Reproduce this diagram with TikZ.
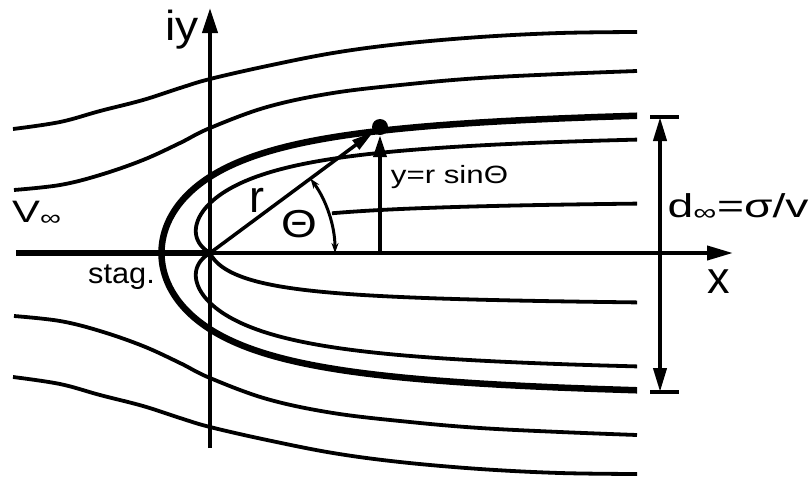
\documentclass[tikz,border=0pt]{standalone}
\usepackage{fontspec}
\setmainfont{Liberation Sans}
\usepackage{graphicx}
\usetikzlibrary{arrows.meta}
\begin{document}
\begin{tikzpicture}[x=1pt,y=-1pt,
  thinstream/.style={line width=3.8pt},
  thickstream/.style={line width=6.5pt},
  axisline/.style={line width=4pt},
  lbl/.style={inner sep=0pt, anchor=base},
  bigtip/.style={-{Triangle[length=26pt,width=14pt]}}
]
\useasboundingbox (0,0) rectangle (810,477);
\def\A{48.5}
\coordinate (O) at (210,253);
\coordinate (XL) at (16,253);
\coordinate (XR) at (733,253);
\coordinate (YB) at (210,448);
\coordinate (YT) at (210,8);
\coordinate (F) at (380,253);
\coordinate (D1) at (660,117);
\coordinate (D2) at (660,392);

% streamlines
\begin{scope}
\clip (0,0) rectangle (637,477);
% dividing streamline (half body)
\draw[thickstream] plot[domain=0.25:6.0332, samples=200, variable=\t]
  ({210 + \A*(pi-\t)*cos(\t r)/sin(\t r)}, {253 - \A*(pi-\t)});
% inner loops from the source
\draw[thinstream] plot[domain=0.2:2.5979, samples=120, variable=\t]
  ({210 + (126-\A*\t)*cos(\t r)/sin(\t r)}, {253 - (126-\A*\t)});
\draw[thinstream] plot[domain=0.2:2.5979, samples=120, variable=\t]
  ({210 + (126-\A*\t)*cos(\t r)/sin(\t r)}, {253 + (126-\A*\t)});
% short streamlines
\draw[thinstream] plot[domain=0.09:1.134, samples=80, variable=\t]
  ({210 + (55-\A*\t)*cos(\t r)/sin(\t r)}, {253 + (55-\A*\t)});
\draw[thinstream] plot[domain=0.09:0.315, samples=40, variable=\t]
  ({210 + (55-\A*\t)*cos(\t r)/sin(\t r)}, {253 - (55-\A*\t)});
\end{scope}
% outer streamlines
\draw[thinstream] plot[smooth, tension=0.6] coordinates {(13,129) (60,122) (100,111) (143,100) (180,88) (210,79) (267,66) (333,53) (400,44) (480,37) (560,33) (637,32)};
\draw[thinstream] plot[smooth, tension=0.6] coordinates {(14,190) (60,185) (100,175) (143,160) (180,143) (210,128) (267,107) (333,93) (410,84) (480,78) (560,74) (637,71)};
\draw[thinstream] plot[smooth, tension=0.6] coordinates {(14,316) (60,321) (100,331) (143,346) (180,363) (210,378) (267,399) (333,413) (410,422) (480,428) (560,432) (637,435)};
\draw[thinstream] plot[smooth, tension=0.6] coordinates {(13,377) (60,384) (100,395) (143,406) (180,418) (210,427) (267,440) (333,453) (400,462) (480,469) (560,473) (637,474)};

% axes
\draw[axisline, bigtip] (O) -- (XR);
\draw[line width=6.5pt] (XL) -- (O);
\draw[axisline, -{Triangle[length=25pt,width=15pt]}] (YB) -- (YT);

% point, r and y
\node[circle, fill, inner sep=0pt, minimum size=16pt] (P) at (380,127) {};
\draw[line width=3.5pt, -{Triangle[length=22pt,width=11pt]}] (O) -- (P);
\draw[axisline, -{Triangle[length=22pt,width=13pt]}] (F) -- (P);
\draw[line width=3pt, {Stealth[length=10pt,width=7pt]}-{Stealth[length=10pt,width=7pt]}]
  ([xshift=125pt]O) arc[start angle=0, end angle=-36.5, radius=125];

% dimension d
\draw[axisline, {Triangle[length=24pt,width=13pt]}-{Triangle[length=24pt,width=13pt]}] (D1) -- (D2);
\draw[axisline] ([xshift=-10pt]D1) -- ([xshift=19pt]D1);
\draw[axisline] ([xshift=-10pt]D2) -- ([xshift=19pt]D2);

% labels
\node[lbl, font=\fontsize{42}{42}\selectfont] (iy) at (182,40) {\scalebox{1.1}[1]{iy}};
\node[lbl, font=\fontsize{45}{45}\selectfont] (xl) at (718.5,293) {x};
\node[lbl, anchor=base west, font=\fontsize{31}{31}\selectfont] (vinf) at (12,222) {\scalebox{1.35}[1]{V\textsubscript{∞}}};
\node[lbl, font=\fontsize{45}{45}\selectfont] (rl) at (257,212) {r};
\node[lbl, font=\fontsize{39}{39}\selectfont] (th) at (299,237) {\scalebox{1.18}[1]{Θ}};
\node[lbl, font=\fontsize{29}{29}\selectfont] (stag) at (121.5,283) {\scalebox{1.06}[1]{stag.}};
\node[lbl, font=\fontsize{25}{25}\selectfont] (ylab) at (449.5,183) {\scalebox{1.25}[1]{y=r sinΘ}};
\node[lbl, font=\fontsize{33}{33}\selectfont] (dlab) at (738,217) {\scalebox{1.4}[1]{d\textsubscript{∞}=σ/v}};
\end{tikzpicture}
\end{document}
